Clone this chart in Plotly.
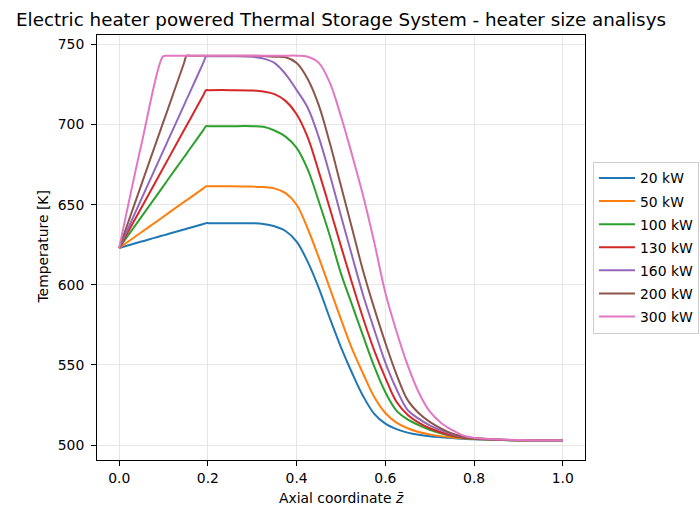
import plotly.graph_objects as go

# Axial coordinate (normalised) at which temperatures are tabulated
Z = [0.0, 0.05, 0.098, 0.104, 0.11, 0.146, 0.152, 0.158, 0.19, 0.196, 0.202,
     0.25, 0.30, 0.325, 0.35, 0.375, 0.40, 0.425, 0.45, 0.475, 0.50,
     0.525, 0.55, 0.575, 0.60, 0.625, 0.65, 0.675, 0.70, 0.725, 0.75,
     0.775, 0.80, 0.85, 0.90, 1.0]

# Heater sizes
LABELS = ["20 kW", "50 kW", "100 kW", "130 kW", "160 kW", "200 kW", "300 kW"]

# Temperature profiles [K]
T_20KW = [623.0, 627.0, 630.8, 631.2, 631.7, 634.5, 635.0, 635.5, 638.0, 638.5, 638.5,
          638.5, 638.4, 638.0, 636.6, 633.6, 627.0, 614.3, 598.0, 579.0, 561.0,
          545.0, 530.5, 519.5, 513.4, 510.0, 507.8, 506.4, 505.5, 504.9, 504.4,
          504.0, 503.6, 503.2, 503.0, 503.0]
T_50KW = [623.0, 632.8, 642.2, 643.4, 644.6, 651.7, 652.9, 654.0, 660.3, 661.5, 661.5,
          661.5, 661.3, 661.0, 660.2, 657.2, 650.0, 635.0, 617.0, 597.7, 578.5,
          560.0, 544.5, 530.0, 520.0, 514.0, 510.5, 508.2, 506.7, 505.6, 504.8,
          504.2, 503.8, 503.3, 503.0, 503.0]
T_100KW = [623.0, 642.4, 661.0, 663.3, 665.7, 679.6, 681.9, 684.3, 696.7, 699.0, 699.0,
           699.0, 699.0, 698.6, 696.3, 692.5, 685.5, 672.0, 652.0, 630.5, 607.0,
           587.5, 568.0, 549.0, 533.0, 521.5, 516.0, 512.5, 509.6, 507.4, 505.7,
           504.6, 504.0, 503.3, 503.0, 503.0]
T_130KW = [623.0, 648.1, 672.3, 675.3, 678.3, 696.4, 699.4, 702.4, 718.5, 721.5, 721.5,
           721.5, 721.3, 720.6, 719.0, 714.8, 706.5, 692.0, 670.5, 647.5, 624.0,
           601.0, 579.0, 559.0, 542.0, 527.0, 519.0, 514.0, 510.5, 508.0, 506.0,
           504.8, 504.1, 503.4, 503.1, 503.0]
T_160KW = [623.0, 653.5, 682.8, 686.4, 690.1, 712.0, 715.7, 719.3, 738.8, 742.5, 742.6,
           742.6, 742.3, 741.2, 738.5, 731.5, 721.5, 710.5, 692.0, 668.5, 643.0,
           618.0, 593.5, 572.0, 551.5, 535.0, 522.0, 516.5, 512.3, 509.3, 506.8,
           505.2, 504.3, 503.5, 503.1, 503.0]
T_200KW = [623.0, 662.5, 700.4, 705.1, 709.8, 738.3, 743.0, 743.0, 743.0, 743.0, 743.0,
           743.0, 743.0, 742.8, 742.4, 742.0, 738.5, 728.5, 712.0, 688.3, 661.7,
           635.1, 608.5, 585.3, 563.8, 544.2, 528.2, 520.0, 514.5, 510.5, 507.3,
           505.3, 504.4, 503.5, 503.1, 503.0]
T_300KW = [623.0, 687.5, 742.3, 742.9, 743.0, 743.0, 743.0, 743.0, 743.0, 743.0, 743.0,
           743.0, 743.0, 743.0, 743.0, 743.0, 743.0, 742.3, 738.5, 726.0, 705.0,
           681.0, 655.5, 626.5, 595.0, 571.0, 550.0, 533.0, 521.0, 514.0, 509.5,
           506.0, 504.5, 503.6, 503.2, 503.0]

PROFILES = [T_20KW, T_50KW, T_100KW, T_130KW, T_160KW, T_200KW, T_300KW]
COLORS = ["#1f77b4", "#ff7f0e", "#2ca02c", "#d62728", "#9467bd", "#8c564b", "#e377c2"]

FONT = "DejaVu Sans"

fig = go.Figure()
for label, temps, color in zip(LABELS, PROFILES, COLORS):
    fig.add_trace(go.Scatter(
        x=Z, y=temps, mode="lines", name=label, legendgroup=label,
        line=dict(color=color, width=2, shape="spline", smoothing=1.0),
    ))

axis_common = dict(
    showline=True, linecolor="black", linewidth=1, mirror=True,
    ticks="outside", ticklen=5, tickwidth=1, tickcolor="black",
    showgrid=True, gridcolor="#e6e6e6", gridwidth=1, zeroline=False,
    tickfont=dict(family=FONT, size=13.9, color="black"),
)

fig.update_xaxes(range=[-0.05, 1.05], tick0=0, dtick=0.2, tickformat=".1f", **axis_common)
fig.update_yaxes(range=[490.7, 755.9], tick0=500, dtick=50, ticklabelstandoff=4,
                 **axis_common)

fig.update_layout(
    width=700, height=506,
    margin=dict(l=97, r=115, t=35, b=46, autoexpand=False),
    paper_bgcolor="white", plot_bgcolor="white",
    font=dict(family=FONT, size=13.9, color="black"),
    title=dict(
        text="Electric heater powered Thermal Storage System - heater size analisys",
        font=dict(family=FONT, size=18.3, color="black"),
        x=0.5, xref="paper", xanchor="center",
        y=1 - 20 / 506, yref="container", yanchor="middle",
    ),
    legend=dict(
        x=(593 - 97) / 488, xanchor="left", y=0.5, yanchor="middle",
        bgcolor="white", bordercolor="#cccccc", borderwidth=1,
        font=dict(family=FONT, size=13.9, color="black"),
        itemwidth=36, tracegroupgap=2,
    ),
    showlegend=True,
    annotations=[
        dict(text="Axial coordinate <i>z̄</i>", xref="paper", yref="paper",
             x=0.5, y=(460 - 498) / 425, xanchor="center", yanchor="middle",
             showarrow=False, font=dict(family=FONT, size=13.9, color="black")),
        dict(text="Temperature [K]", xref="paper", yref="paper",
             x=(42 - 97) / 488, y=0.5, xanchor="center", yanchor="middle",
             textangle=-90, showarrow=False,
             font=dict(family=FONT, size=13.9, color="black")),
    ],
)

fig.write_html("out.html")
